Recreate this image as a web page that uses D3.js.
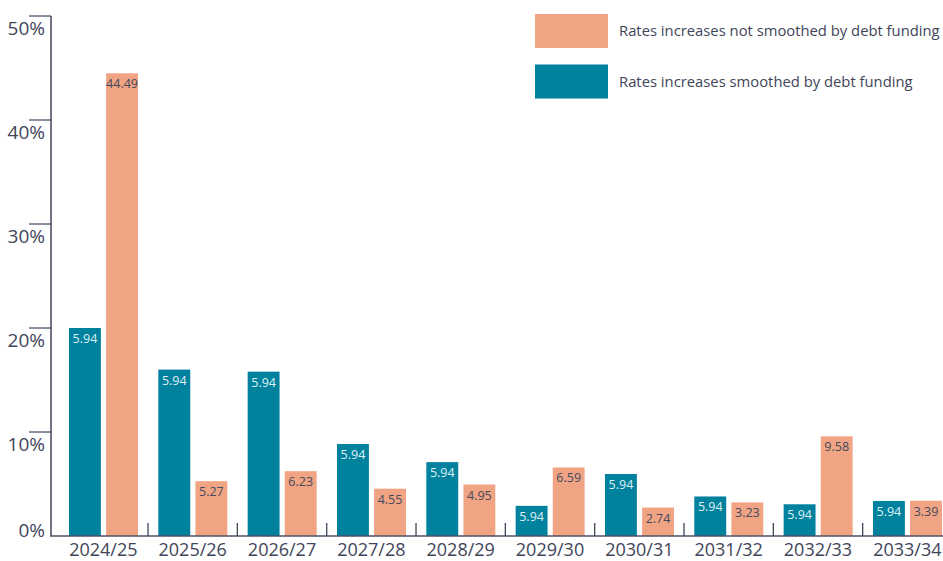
<!DOCTYPE html>
<html>
<head>
<meta charset="utf-8">
<script src="https://cdn.jsdelivr.net/npm/d3@7"></script>
<style>
  html, body { margin: 0; padding: 0; background: #ffffff; }
  svg { display: block; font-family: "Open Sans", "DejaVu Sans", sans-serif; }
</style>
</head>
<body>
<svg id="chart" width="943" height="561"></svg>
<script>
// ---- data ----
const categories = ["2024/25","2025/26","2026/27","2027/28","2028/29","2029/30","2030/31","2031/32","2032/33","2033/34"];
const seriesNames = ["Rates increases smoothed by debt funding", "Rates increases not smoothed by debt funding"];
// bar heights (as drawn) for the smoothed series
const smoothedHeights = [20.0, 16.0, 15.8, 8.85, 7.1, 2.9, 5.96, 3.8, 3.05, 3.37];
// labels printed on the smoothed series
const smoothedLabels = ["5.94","5.94","5.94","5.94","5.94","5.94","5.94","5.94","5.94","5.94"];
const notSmoothedValues = [44.49, 5.27, 6.23, 4.55, 4.95, 6.59, 2.74, 3.23, 9.58, 3.39];
const notSmoothedLabels = ["44.49","5.27","6.23","4.55","4.95","6.59","2.74","3.23","9.58","3.39"];
const yTicks = [0, 10, 20, 30, 40, 50];

// ---- styles ----
const TEAL = "#00829f";
const ORANGE = "#f0a484";
const AXIS = "#3f4559";

const svg = d3.select("#chart");

const x = d3.scaleBand().domain(categories).range([58.7, 952]).paddingInner(0).paddingOuter(0);
const xs = d3.scaleBand().domain(seriesNames).range([10.3, 79.3]).paddingInner(0.14);
const y = d3.scaleLinear().domain([0, 50]).range([536, 16]);

const rows = categories.map((c, i) => ({
  cat: c,
  bars: [
    { s: seriesNames[0], v: smoothedHeights[i], label: smoothedLabels[i], color: TEAL, textColor: "#dff1f5" },
    { s: seriesNames[1], v: notSmoothedValues[i], label: notSmoothedLabels[i], color: ORANGE, textColor: "#444a5c" }
  ]
}));

// bars
const g = svg.append("g");
const groups = g.selectAll("g.cat").data(rows).join("g")
  .attr("class", "cat")
  .attr("transform", d => `translate(${x(d.cat)},0)`);

groups.selectAll("rect").data(d => d.bars).join("rect")
  .attr("x", d => xs(d.s))
  .attr("width", xs.bandwidth())
  .attr("y", d => y(d.v))
  .attr("height", d => y(0) - y(d.v))
  .attr("fill", d => d.color);

groups.selectAll("text.val").data(d => d.bars).join("text")
  .attr("class", "val")
  .attr("x", d => xs(d.s) + xs.bandwidth() / 2)
  .attr("y", d => y(d.v) + 15)
  .attr("text-anchor", "middle")
  .attr("font-size", 12.5)
  .attr("fill", d => d.textColor)
  .text(d => d.label);

// y axis
const yAxis = svg.append("g");
yAxis.append("line")
  .attr("x1", 51).attr("x2", 51)
  .attr("y1", y(50)).attr("y2", y(0))
  .attr("stroke", AXIS).attr("stroke-width", 1.5);
yAxis.selectAll("line.tick").data(yTicks.filter(t => t > 0)).join("line")
  .attr("class", "tick")
  .attr("x1", 29).attr("x2", 51)
  .attr("y1", d => y(d)).attr("y2", d => y(d))
  .attr("stroke", AXIS).attr("stroke-width", 1.2);
yAxis.selectAll("text").data(yTicks).join("text")
  .attr("x", 45)
  .attr("y", d => d === 0 ? y(d) + 1 : y(d) + 19)
  .attr("text-anchor", "end")
  .attr("font-size", 19)
  .attr("fill", AXIS)
  .text(d => d + "%");

// x axis baseline and separators
const xAxis = svg.append("g");
xAxis.append("line")
  .attr("x1", 50).attr("x2", 943)
  .attr("y1", y(0)).attr("y2", y(0))
  .attr("stroke", "#4b5164").attr("stroke-width", 1.5);
xAxis.selectAll("line.sep").data(categories.slice(1)).join("line")
  .attr("class", "sep")
  .attr("x1", d => x(d)).attr("x2", d => x(d))
  .attr("y1", y(0)).attr("y2", y(0) - 13)
  .attr("stroke", AXIS).attr("stroke-width", 1.3);
xAxis.selectAll("text").data(categories).join("text")
  .attr("x", d => x(d) + x.bandwidth() / 2)
  .attr("y", 556)
  .attr("text-anchor", "middle")
  .attr("font-size", 18)
  .attr("fill", AXIS)
  .text(d => d);

// legend
const legendItems = [
  { name: seriesNames[1], color: ORANGE },
  { name: seriesNames[0], color: TEAL }
];
const legend = svg.append("g");
const li = legend.selectAll("g").data(legendItems).join("g")
  .attr("transform", (d, i) => `translate(535,${14 + i * 50.5})`);
li.append("rect").attr("width", 73).attr("height", 34).attr("fill", d => d.color);
li.append("text")
  .attr("x", 84).attr("y", 22)
  .attr("font-size", 14.8)
  .attr("fill", AXIS)
  .text(d => d.name);
</script>
</body>
</html>
